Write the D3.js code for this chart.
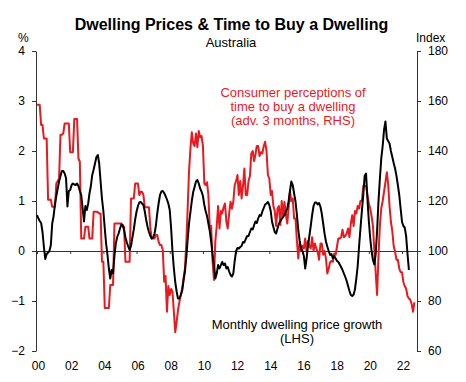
<!DOCTYPE html>
<html><head><meta charset="utf-8">
<script src="https://cdn.jsdelivr.net/npm/d3@7"></script>
<style>
body{margin:0;background:#fff}
svg{display:block}
text{font-family:"Liberation Sans",Arial,Helvetica,sans-serif}
</style>
</head><body>
<svg id="c" width="466" height="382"></svg>
<script>
// ---- DATA (monthly, starting Jan 2000) ----
const startYear = 2000;
// Monthly dwelling price growth, % (LHS)
const priceGrowth = [
  0.72,0.65,0.6,0.56,0.38,0.08,-0.16,-0.06,-0.03,0.0,0.12,0.55,
  0.7,0.95,1.1,1.25,1.39,1.5,1.6,1.6,1.55,1.46,0.89,1.2,
  1.22,1.32,1.35,1.33,1.32,1.35,1.3,1.2,1.12,0.86,0.59,0.9,
  0.82,0.95,1.15,1.3,1.52,1.63,1.75,1.88,1.92,1.75,1.39,1.05,
  0.8,0.45,0.15,-0.08,-0.35,-0.55,-0.38,-0.45,-0.1,0.15,0.28,0.35,
  0.45,0.53,0.52,0.42,0.27,0.17,0.09,0.02,0.1,0.27,0.43,0.63,
  0.79,0.9,0.97,0.98,0.95,0.92,0.79,0.62,0.48,0.38,0.3,0.25,
  0.27,0.35,0.5,0.75,0.95,1.12,1.19,1.2,1.16,1.1,1.03,0.95,
  0.82,0.45,0.0,-0.35,-0.62,-0.81,-0.95,-0.95,-0.88,-0.79,-0.58,-0.41,
  -0.12,0.25,0.55,0.78,1.0,1.18,1.28,1.39,1.42,1.35,1.25,1.19,
  1.1,0.92,0.8,0.7,0.55,0.4,0.19,-0.08,-0.3,-0.55,-0.45,-0.28,
  -0.35,-0.28,-0.22,-0.28,-0.25,-0.35,-0.32,-0.41,-0.48,-0.51,-0.45,-0.2,
  0.0,0.06,0.05,0.08,0.1,0.18,0.17,0.24,0.3,0.3,0.38,0.45,
  0.43,0.52,0.59,0.56,0.65,0.72,0.7,0.79,0.86,0.93,0.95,0.98,
  0.92,0.8,0.59,0.48,0.38,0.35,0.45,0.55,0.6,0.64,0.68,0.72,
  0.78,0.85,0.99,1.2,1.39,1.32,1.15,0.99,0.72,0.42,0.2,0.05,
  0.0,-0.1,-0.35,-0.15,0.1,0.3,0.5,0.72,0.9,0.97,0.97,0.93,
  0.96,0.88,0.75,0.55,0.35,0.19,0.09,0.0,-0.08,-0.06,-0.15,-0.1,
  -0.15,-0.2,-0.22,-0.27,-0.32,-0.38,-0.45,-0.52,-0.6,-0.7,-0.8,-0.88,
  -0.9,-0.87,-0.77,-0.55,-0.3,0.1,0.45,0.8,1.12,1.5,1.55,1.05,
  0.6,0.25,0.0,-0.18,-0.27,-0.05,0.4,1.0,1.45,1.85,2.1,2.42,
  2.59,2.25,2.2,2.15,2.0,1.88,1.76,1.65,1.5,1.32,1.12,0.85,
  0.58,0.5,0.47,0.3,-0.05,-0.38
];
// Consumer perceptions of time to buy a dwelling, index (adv. 3 months, RHS)
const timeToBuy = [
  158.5,158.5,158.5,150.4,150.4,145,145,145,120.5,120.5,120.5,117.7,
  117.7,117.7,127,128,129,146.5,146.5,147,151,151,151,151,
  139.5,139.5,139.5,152.8,152.8,152.8,137,135.7,105,105,105,109.7,
  109.7,109.7,105,105,105,115.7,115.7,115.7,115.5,115,115,95.7,
  95.7,77.2,77.2,77.2,77.2,86.4,86.4,86.4,111,111,111,111,
  111,111,109.7,109.7,95.7,95.7,95.7,95.7,121,121,121,127,
  127,127,122.4,123.7,123.7,122.4,117.5,117.5,117.5,117.5,109,105,
  105,105,106.4,106.4,103.7,102.4,102.4,100.4,87.7,90,75.7,86,
  82.4,84.8,83.7,75.7,67.5,71.7,76.3,79.7,82.4,84.8,89,93,
  104,118,132,141,147.5,143,142,147,141.5,148,145.5,146,
  142,127,126.4,127.5,122.4,109,110,95.7,88.4,104,110,118,
  109,116,115,117.5,119,111.7,109,115,119.7,117,119.7,126.4,
  128,130.4,122.4,128,121,126,133,122.4,122.4,128,130,139,
  140,136,138.5,142,142,138,139.5,139,142,143.7,140,130.4,
  129,122.4,124,118,116,110,117,118,110.4,120,114,119.7,
  114.5,111,117,124,120,121,113,113,104,97,103.7,100,
  102,101,105,99.7,104,102,101,105.5,100,103,101,99.7,
  96.5,103,103,98.5,100,97,91,93,95.5,96,95.7,99,
  98.5,102,105,105,105.5,108.5,105.5,106,107,109,105.5,111,
  114.3,110,116,115,118,117,120,120,126,126,126,122.4,
  119,117,114,110,100.4,91,82.4,98,110.4,117,120,123.7,
  127.5,131.5,127,118,111.7,108,102,99.7,96.5,96.5,93,91.5,
  91.5,87.5,86,85,82,81,80.5,78.8,75.7,79.5
];
const yearTicks = [2000,2002,2004,2006,2008,2010,2012,2014,2016,2018,2020,2022];
const leftTicks = [-2,-1,0,1,2,3,4];
const rightTicks = [60,80,100,120,140,160,180];
const titleText = "Dwelling Prices & Time to Buy a Dwelling";
const subtitleText = "Australia";
const redLabel = ["Consumer perceptions of","time to buy a dwelling","(adv. 3 months, RHS)"];
const blackLabel = ["Monthly dwelling price growth","(LHS)"];

// ---- CHART ----
const RED = "#e8191f";
const AXIS = "#333";
const svg = d3.select("#c");
const monthDate = i => new Date(startYear, i, 1);

const x = d3.scaleTime().domain([new Date(2000,0,1), new Date(2022,11,1)]).range([37, 417.2]);
const yL = d3.scaleLinear().domain([-2,4]).range([351,51]);
const yR = d3.scaleLinear().domain([60,180]).range([351,51]);

// title
svg.append("text").attr("x",231.5).attr("y",30).attr("text-anchor","middle")
  .attr("font-size",16).attr("font-weight","bold").attr("fill","#000").text(titleText);
svg.append("text").attr("x",231).attr("y",46.5).attr("text-anchor","middle")
  .attr("font-size",13).attr("fill","#000").text(subtitleText);
svg.append("text").attr("x",18).attr("y",41.5).attr("font-size",12).attr("fill","#000").text("%");
svg.append("text").attr("x",416).attr("y",41.5).attr("font-size",12).attr("fill","#000").text("Index");

// left axis
const gL = svg.append("g").attr("transform","translate(36,0)")
  .call(d3.axisLeft(yL).tickValues(leftTicks).tickSize(4).tickSizeOuter(0).tickPadding(7).tickFormat(d3.format("d")));
// right axis
const gR = svg.append("g").attr("transform","translate(417,0)")
  .call(d3.axisRight(yR).tickValues(rightTicks).tickSize(4).tickSizeOuter(0).tickPadding(7));
[gL,gR].forEach(g=>{
  g.selectAll("path,line").attr("stroke",AXIS);
  g.selectAll("text").attr("font-size",12).attr("fill","#000").attr("font-family",'"Liberation Sans",Arial,sans-serif');
});

// zero line with year ticks
const gZ = svg.append("g").attr("transform",`translate(0,${yL(0)})`)
  .call(d3.axisBottom(x).tickValues(yearTicks.map(y=>new Date(y,0,1))).tickSize(3).tickSizeOuter(0).tickFormat(""));
gZ.select(".domain").remove();
gZ.selectAll("line").attr("stroke",AXIS);
svg.append("line").attr("x1",36).attr("x2",417).attr("y1",yL(0)+0.5).attr("y2",yL(0)+0.5)
  .attr("stroke",AXIS).attr("stroke-width",1);

// year labels
const gX = svg.append("g").attr("transform","translate(1,351)")
  .call(d3.axisBottom(x).tickValues(yearTicks.map(y=>new Date(y,0,1))).tickSize(0).tickPadding(10.5)
    .tickFormat(d3.timeFormat("%y")));
gX.select(".domain").remove();
gX.selectAll("text").attr("font-size",12).attr("fill","#000").attr("font-family",'"Liberation Sans",Arial,sans-serif');

// series
const lineR = d3.line().x((d,i)=>x(monthDate(i))).y(d=>yR(d));
const lineL = d3.line().x((d,i)=>x(monthDate(i))).y(d=>yL(d));
svg.append("path").datum(timeToBuy).attr("d",lineR).attr("fill","none")
  .attr("stroke",RED).attr("stroke-width",2).attr("stroke-linejoin","round");
svg.append("path").datum(priceGrowth).attr("d",lineL).attr("fill","none")
  .attr("stroke","#000").attr("stroke-width",2).attr("stroke-linejoin","round");

// labels
redLabel.forEach((t,i)=>svg.append("text").attr("x",293).attr("y",97+i*14)
  .attr("text-anchor","middle").attr("font-size",13).attr("fill",RED).text(t));
blackLabel.forEach((t,i)=>svg.append("text").attr("x",297).attr("y",329+i*14)
  .attr("text-anchor","middle").attr("font-size",13).attr("fill","#000").text(t));
</script>
</body></html>
